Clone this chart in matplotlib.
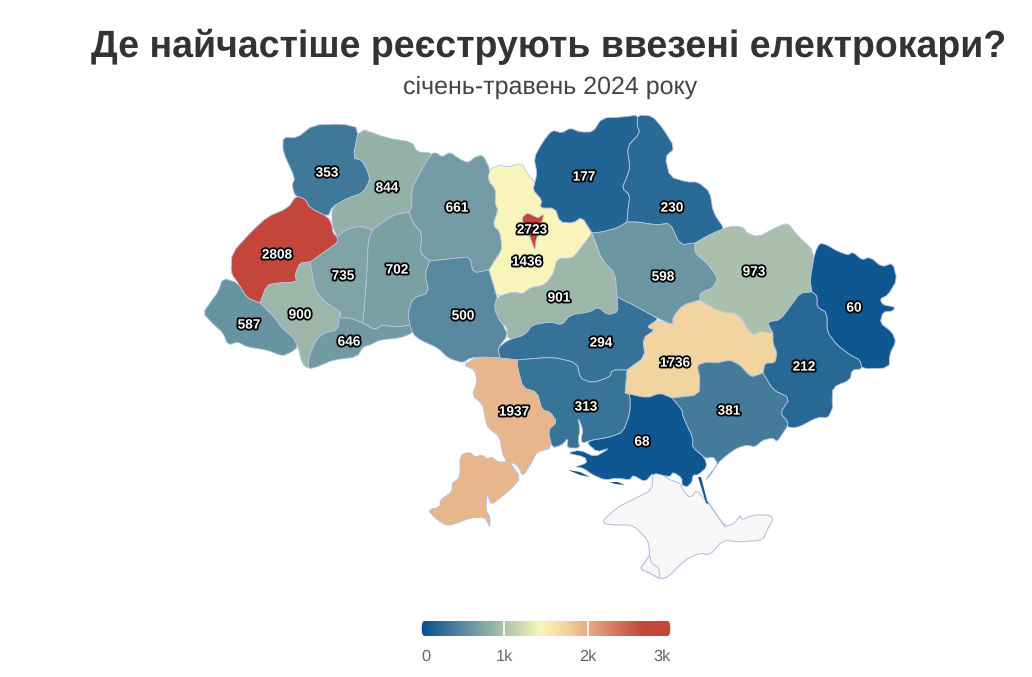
import matplotlib
matplotlib.use("Agg")
from collections import Counter
import matplotlib.pyplot as plt
import matplotlib.patheffects as pe
import numpy as np
from matplotlib.colors import LinearSegmentedColormap, Normalize
from matplotlib.patches import FancyBboxPatch, Polygon

TITLE = "Де найчастіше реєструють ввезені електрокари?"
SUBTITLE = "січень-травень 2024 року"

# registrations by region
REGIONS = ["volyn", "rivne", "zhytomyr", "khmelnytskyi", "ternopil", "lviv", "ivano", "zakarpattia",
           "chernivtsi", "vinnytsia", "kyiv_obl", "chernihiv", "sumy", "poltava", "cherkasy", "kirovohrad",
           "dnipro", "kharkiv", "luhansk", "donetsk", "zaporizhzhia", "kherson", "mykolaiv", "odesa", "kyiv_city"]
VALUES = [353, 844, 661, 702, 735, 2808, 900, 587,
          646, 500, 1436, 177, 230, 598, 901, 294,
          1736, 973, 60, 212, 381, 68, 313, 1937, 2723]

LEGEND_TICKS = [0, 1000, 2000, 3000]
LEGEND_LABELS = ["0", "1k", "2k", "3k"]

# outlines, in image pixels
SHAPES = {
    "volyn": [(283,137),(297,138),(313,125),(343,124),(359,128),(353,158),(362,160),(368,172),(370,180),(363,193),(348,198),(332,207),(328,217),(310,208),(305,199),(295,196),(292,185),(295,178),(283,152)],
    "rivne": [(359,128),(387,138),(412,142),(417,152),(432,153),(430,160),(420,173),(412,188),(412,207),(409,212),(393,215),(372,230),(360,226),(345,230),(337,237),(332,225),(332,207),(348,198),(363,193),(370,180),(368,172),(362,160),(353,158)],
    "zhytomyr": [(432,153),(437,153),(442,157),(450,152),(458,158),(468,163),(475,157),(483,155),(490,169),(488,180),(496,190),(495,203),(498,210),(493,225),(500,232),(502,247),(500,253),(495,260),(489,270),(473,273),(470,257),(458,258),(430,261),(420,253),(422,233),(413,223),(409,212),(412,207),(412,188),(420,173)],
    "khmelnytskyi": [(372,230),(393,215),(409,212),(413,223),(422,233),(420,253),(430,261),(425,273),(429,293),(413,298),(408,313),(410,325),(397,327),(382,325),(375,330),(363,323),(365,297),(367,270),(368,242)],
    "ternopil": [(337,237),(345,230),(360,226),(372,230),(368,242),(367,270),(365,297),(363,323),(350,318),(340,318),(340,312),(330,305),(325,302),(315,290),(312,273),(310,262),(327,250),(338,242)],
    "lviv": [(296,196),(305,199),(310,208),(328,217),(332,225),(333,233),(337,237),(338,242),(327,250),(310,262),(300,263),(295,275),(297,282),(278,283),(267,285),(260,303),(247,298),(238,283),(231,273),(232,253),(250,233),(267,217),(288,208)],
    "ivano": [(300,263),(310,262),(312,273),(315,290),(325,302),(330,305),(340,312),(338,330),(323,333),(315,342),(309,357),(308,369),(302,363),(298,347),(293,337),(282,328),(275,318),(267,310),(260,303),(267,285),(278,283),(297,282),(295,275)],
    "zakarpattia": [(223,278),(238,283),(247,298),(260,303),(267,310),(275,318),(282,328),(293,337),(298,347),(290,353),(282,356),(267,350),(247,347),(238,342),(228,345),(223,333),(212,323),(203,313),(212,300),(218,292)],
    "chernivtsi": [(340,312),(340,318),(350,318),(363,323),(375,330),(382,325),(397,327),(410,325),(413,333),(400,338),(380,340),(370,345),(363,347),(357,357),(333,360),(317,367),(308,369),(309,357),(315,342),(323,333),(338,330)],
    "vinnytsia": [(430,261),(458,258),(470,257),(473,273),(489,270),(493,283),(498,300),(495,310),(502,323),(508,335),(498,348),(500,358),(483,357),(470,358),(463,363),(448,358),(438,348),(420,340),(413,334),(410,325),(408,313),(413,298),(429,293),(425,273)],
    "kyiv_obl": [(500,165),(508,167),(522,163),(528,175),(535,182),(533,190),(542,200),(540,208),(555,208),(560,222),(573,223),(582,217),(592,233),(587,240),(577,253),(573,258),(557,259),(554,273),(545,285),(530,288),(523,294),(513,292),(497,297),(493,283),(489,270),(495,260),(500,253),(502,247),(500,232),(493,225),(498,210),(495,203),(496,190),(488,180),(490,169)],
    "chernihiv": [(552,130),(562,133),(570,128),(580,132),(593,132),(602,118),(623,117),(638,115),(637,125),(640,133),(627,147),(630,167),(627,177),(622,188),(630,195),(628,210),(627,222),(617,228),(602,232),(592,233),(582,217),(573,223),(560,222),(555,208),(540,208),(542,200),(533,190),(535,182),(537,173),(534,158),(542,143)],
    "sumy": [(638,115),(652,116),(662,127),(675,148),(665,157),(670,177),(687,182),(698,182),(710,192),(713,212),(725,230),(713,233),(695,243),(680,245),(670,223),(657,225),(637,222),(627,222),(628,210),(630,195),(622,188),(627,177),(630,167),(627,147),(640,133),(637,125)],
    "poltava": [(592,233),(602,232),(617,228),(627,222),(637,222),(657,225),(670,223),(680,245),(695,243),(695,253),(707,263),(718,278),(713,288),(700,293),(700,300),(683,305),(673,317),(673,325),(657,318),(637,307),(617,297),(615,273),(602,260)],
    "cherkasy": [(592,233),(595,243),(602,260),(615,273),(617,297),(618,312),(608,315),(598,307),(590,312),(570,315),(562,325),(550,322),(532,325),(525,335),(508,340),(507,327),(500,322),(494,308),(497,297),(513,292),(523,294),(530,288),(545,285),(554,273),(557,259),(573,258),(577,253),(587,240)],
    "kirovohrad": [(508,340),(525,335),(532,325),(550,322),(562,325),(570,315),(590,312),(598,307),(608,315),(618,312),(617,297),(637,307),(657,318),(657,320),(647,327),(655,330),(643,338),(645,357),(627,370),(612,370),(610,377),(592,383),(580,378),(577,363),(553,357),(517,360),(500,358),(498,348)],
    "dnipro": [(657,320),(673,325),(673,317),(683,305),(700,300),(712,307),(723,312),(738,313),(752,335),(760,331),(773,333),(773,343),(777,353),(775,363),(765,363),(763,373),(752,377),(747,373),(740,365),(730,360),(717,363),(707,362),(697,365),(700,378),(699,395),(672,398),(660,393),(647,398),(625,393),(627,370),(645,357),(643,338),(655,330),(647,327)],
    "kharkiv": [(695,243),(713,233),(730,226),(743,227),(747,233),(758,237),(777,227),(788,223),(797,235),(815,252),(810,280),(812,292),(800,293),(790,307),(780,320),(767,322),(773,333),(760,331),(752,335),(738,313),(723,312),(712,307),(700,300),(700,293),(713,288),(718,278),(707,263),(695,253)],
    "luhansk": [(815,252),(820,243),(827,245),(837,251),(848,255),(853,252),(862,260),(870,257),(882,267),(893,263),(897,280),(888,295),(880,299),(883,305),(895,307),(893,311),(883,312),(880,323),(892,332),(896,342),(890,353),(889,368),(862,369),(860,360),(850,355),(837,345),(827,332),(827,313),(817,307),(817,296),(812,292),(810,280)],
    "donetsk": [(812,292),(817,296),(817,307),(827,313),(827,332),(837,345),(850,355),(860,360),(862,369),(852,370),(850,380),(833,387),(832,402),(833,407),(828,418),(818,417),(797,428),(787,427),(788,422),(780,413),(790,398),(773,390),(763,373),(765,363),(775,363),(777,353),(773,343),(773,333),(767,322),(780,320),(790,307),(800,293)],
    "zaporizhzhia": [(697,365),(707,362),(717,363),(730,360),(740,365),(747,373),(752,377),(763,373),(773,390),(790,398),(780,413),(788,422),(787,427),(785,430),(777,442),(773,438),(763,440),(755,447),(747,445),(737,448),(727,455),(718,463),(710,476),(705,480),(716,466),(717,462),(713,457),(708,458),(705,458),(692,447),(693,438),(683,417),(682,410),(672,398),(699,395),(700,378)],
    "kherson": [(625,393),(647,398),(660,393),(672,398),(682,410),(683,417),(693,438),(692,447),(705,458),(707,467),(698,475),(693,475),(692,482),(687,487),(682,485),(682,478),(673,472),(670,477),(653,473),(645,482),(633,475),(630,480),(617,478),(605,480),(593,475),(583,468),(575,467),(587,463),(585,457),(567,453),(580,450),(595,457),(610,448),(597,452),(587,443),(592,440),(610,437),(623,432),(630,413),(630,395)],
    "mykolaiv": [(517,360),(553,357),(577,363),(580,378),(592,383),(610,377),(612,370),(627,370),(625,393),(630,395),(630,413),(623,432),(610,437),(592,440),(583,443),(581,440),(583,430),(578,417),(580,430),(578,440),(580,448),(567,448),(568,438),(562,445),(552,448),(548,430),(557,422),(550,412),(542,410),(537,392),(523,388),(518,370)],
    "odesa": [(463,365),(477,357),(500,358),(517,360),(518,370),(523,388),(537,392),(542,410),(550,412),(557,422),(548,430),(552,448),(537,452),(533,460),(523,477),(518,466),(509,461),(521,478),(510,490),(500,498),(491,505),(487,493),(486,510),(490,517),(490,528),(485,517),(470,518),(452,525),(445,525),(435,518),(428,510),(440,507),(440,500),(452,492),(452,483),(460,478),(460,455),(470,452),(475,457),(482,455),(487,459),(492,457),(498,462),(507,462),(502,453),(500,437),(488,428),(485,418),(483,405),(472,395),(477,383),(475,370)],
    "kyiv_city": [(522,218),(527,213),(532,215),(538,218),(544,214),(542,222),(537,228),(538,235),(536,240),(535,250),(533,245),(530,237),(527,230),(523,223)],
}

CRIMEA = [(653,473),(652,490),(632,500),(618,507),(603,520),(605,524),(617,525),(633,525),(648,540),(650,555),(645,562),(640,569),(650,573),(660,579),(668,577),(685,560),(700,553),(710,555),(723,540),(740,542),(763,540),(767,530),(773,520),(770,515),(753,515),(742,520),(740,515),(735,523),(725,527),(712,508),(705,500),(697,490),(690,498),(683,490),(680,483),(670,480),(660,473)]
SEVASTOPOL = [(650,555),(645,562),(640,569),(650,573),(660,579),(659,568),(651,563)]
ARABAT = [(698,477),(701,477),(707,500),(709,504),(706,503)]
ARABAT_TAIL = [(707,500),(725,527)]
SPITS = [[(568,470),(580,472),(590,477),(580,475)], [(610,482),(618,482),(625,485),(615,484)]]

LABEL_POS = {
    "volyn": (327,173), "rivne": (387,188), "zhytomyr": (457,208), "khmelnytskyi": (397,270),
    "ternopil": (343,276), "lviv": (277,255), "ivano": (300,315), "zakarpattia": (249,325),
    "chernivtsi": (349,342), "vinnytsia": (463,316), "kyiv_obl": (527,262), "chernihiv": (584,177),
    "sumy": (672,208), "poltava": (663,277), "cherkasy": (559,298), "kirovohrad": (601,343),
    "dnipro": (675,363), "kharkiv": (754,272), "luhansk": (854,308), "donetsk": (804,367),
    "zaporizhzhia": (729,411), "kherson": (642,442), "mykolaiv": (586,407), "odesa": (514,412),
    "kyiv_city": (532,230),
}

EDGE = "#b7c2e2"
cmap = LinearSegmentedColormap.from_list("ev", [
    (0.0, "#04508f"), (0.48, "#f9f5ba"), (0.58, "#f2d4a0"), (0.645, "#e8b78c"), (0.89, "#c4453a"), (1.0, "#c4453a")])
norm = Normalize(0, 3000)

# corners where three regions meet must stay put or white gaps open up
VERTEX_USE = Counter(p for pts in SHAPES.values() for p in pts)


def soften(pts, cut=0.2):
    # cut each corner a little so the outlines look less angular
    out = []
    n = len(pts)
    for i in range(n):
        x0, y0 = pts[i]
        x1, y1 = pts[(i + 1) % n]
        if VERTEX_USE[pts[i]] >= 3:
            out.append(pts[i])
        else:
            out.append((x0 + cut * (x1 - x0), y0 + cut * (y1 - y0)))
        if VERTEX_USE[pts[(i + 1) % n]] < 3:
            out.append((x1 - cut * (x1 - x0), y1 - cut * (y1 - y0)))
    return out


def draw_map(ax):
    # crimea has no data, plain grey
    for pts in (CRIMEA, SEVASTOPOL):
        ax.add_patch(Polygon(soften(pts), closed=True, fc="#f7f7f7", ec=EDGE, lw=0.8, joinstyle="round"))
    ax.plot(*zip(*ARABAT_TAIL), color=EDGE, lw=0.9)
    for pts in [ARABAT] + SPITS:
        ax.add_patch(Polygon(pts, closed=True, fc=cmap(norm(68)), ec="none"))
    for name, val in zip(REGIONS, VALUES):
        ax.add_patch(Polygon(soften(SHAPES[name]), closed=True, fc=cmap(norm(val)), ec=EDGE, lw=0.6, joinstyle="round"))
    for name, val in zip(REGIONS, VALUES):
        x, y = LABEL_POS[name]
        ax.text(x, y, str(val), ha="center", va="center", fontsize=9.8, fontweight="bold", color="white",
                path_effects=[pe.withStroke(linewidth=2.6, foreground="black")], zorder=5)


def draw_legend(fig):
    lax = fig.add_axes([421/1032, 1 - 636/677, 250/1032, 15/677])
    lax.set_xlim(0, 3000)
    lax.set_ylim(0, 1)
    lax.axis("off")
    grad = np.linspace(0, 1, 500).reshape(1, -1)
    im = lax.imshow(grad, cmap=cmap, extent=(0, 3000, 0, 1), aspect="auto", vmin=0, vmax=1)
    clip = FancyBboxPatch((0, 0), 3000, 1, boxstyle="round,pad=0,rounding_size=40", mutation_aspect=1/40,
                          transform=lax.transData, fc="none", ec="none")
    lax.add_patch(clip)
    im.set_clip_path(clip)
    for t in LEGEND_TICKS[1:-1]:
        lax.axvline(t, color="white", lw=1.2)
    aligns = ["left", "center", "center", "right"]
    for t, lab, ha in zip(LEGEND_TICKS, LEGEND_LABELS, aligns):
        lax.annotate(lab, (t, 0), xytext=(0, -18), textcoords="offset points", ha=ha, va="baseline",
                     fontsize=11.8, color="#666666", annotation_clip=False)


def main():
    plt.rcParams["font.family"] = ["Liberation Sans", "DejaVu Sans"]
    plt.rcParams["text.hinting"] = "none"
    fig = plt.figure(figsize=(10.32, 6.77), dpi=100)
    ax = fig.add_axes([0, 0, 1, 1])
    ax.set_xlim(0, 1032)
    ax.set_ylim(677, 0)
    ax.axis("off")

    draw_map(ax)
    ax.text(549, 47, TITLE, ha="center", va="center", fontsize=27, fontweight="bold", color="#333333")
    ax.text(550, 87, SUBTITLE, ha="center", va="center", fontsize=18, color="#444444")
    draw_legend(fig)

    fig.savefig("out.png", dpi=100)


if __name__ == "__main__":
    main()
